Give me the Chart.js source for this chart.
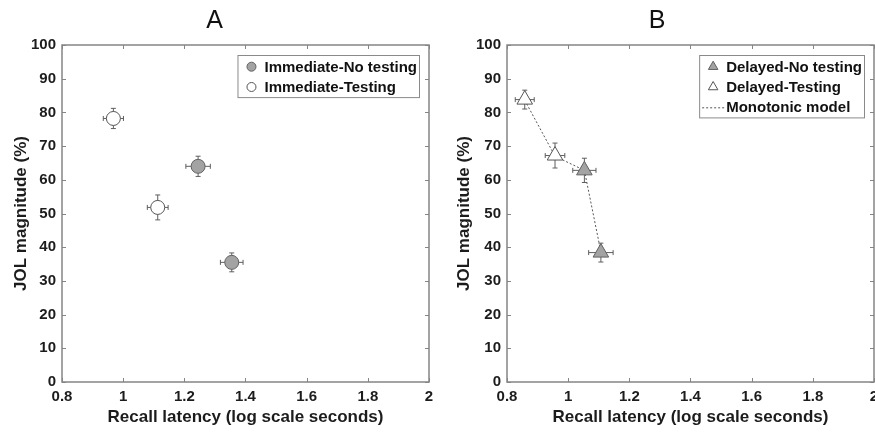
<!DOCTYPE html>
<html>
<head>
<meta charset="utf-8">
<script src="https://cdn.jsdelivr.net/npm/chart.js@4.4.0/dist/chart.umd.min.js"></script>
<style>
  html, body { margin: 0; padding: 0; background: #fff; overflow: hidden; }
  #wrap { position: relative; width: 875px; height: 433px; overflow: hidden; }
  #panelA { position: absolute; left: 0; top: 0; }
  #panelB { position: absolute; left: 440px; top: 0; }
</style>
</head>
<body>
<div id="wrap">
  <canvas id="panelA" width="440" height="433"></canvas>
  <canvas id="panelB" width="445" height="433"></canvas>
</div>
<script>
// axis ticks
const xTicks = [0.8, 1, 1.2, 1.4, 1.6, 1.8, 2];
const yTicks = [0, 10, 20, 30, 40, 50, 60, 70, 80, 90, 100];

// panel A - immediate JOLs
const immNoTestX = [1.245, 1.355];
const immNoTestY = [64, 35.5];
const immNoTestXErr = [0.04, 0.037];
const immNoTestYErr = [3, 2.8];

const immTestX = [0.968, 1.113];
const immTestY = [78.2, 51.8];
const immTestXErr = [0.033, 0.034];
const immTestYErr = [3, 3.7];

// panel B - delayed JOLs
const delNoTestX = [1.053, 1.107];
const delNoTestY = [62.8, 38.4];
const delNoTestXErr = [0.038, 0.04];
const delNoTestYErr = [3.6, 2.8];

const delTestX = [0.858, 0.957];
const delTestY = [83.8, 67.2];
const delTestXErr = [0.031, 0.032];
const delTestYErr = [2.8, 3.7];

const modelX = [0.858, 0.957, 1.053, 1.107];
const modelY = [83.6, 67.0, 62.8, 38.6];

const FONT = '"Liberation Sans", Arial, sans-serif';
const GRAY_FILL = '#a3a3a3';

const toPoints = (xs, ys) => xs.map((x, i) => ({ x: x, y: ys[i] }));

// error bars go under the markers
const errorBarPlugin = {
  id: 'errorBars',
  beforeDatasetsDraw(chart) {
    const { ctx, scales: { x, y } } = chart;
    const cap = 2.5;
    ctx.save();
    ctx.strokeStyle = '#5e5e5e';
    ctx.lineWidth = 1;
    chart.data.datasets.forEach((ds) => {
      if (!ds.xErr) return;
      ds.data.forEach((p, i) => {
        const px = x.getPixelForValue(p.x);
        const py = y.getPixelForValue(p.y);
        const x0 = x.getPixelForValue(p.x - ds.xErr[i]);
        const x1 = x.getPixelForValue(p.x + ds.xErr[i]);
        const y0 = y.getPixelForValue(p.y - ds.yErr[i]);
        const y1 = y.getPixelForValue(p.y + ds.yErr[i]);
        ctx.beginPath();
        ctx.moveTo(x0, py); ctx.lineTo(x1, py);
        ctx.moveTo(x0, py - cap); ctx.lineTo(x0, py + cap);
        ctx.moveTo(x1, py - cap); ctx.lineTo(x1, py + cap);
        ctx.moveTo(px, y0); ctx.lineTo(px, y1);
        ctx.moveTo(px - cap, y0); ctx.lineTo(px + cap, y0);
        ctx.moveTo(px - cap, y1); ctx.lineTo(px + cap, y1);
        ctx.stroke();
      });
    });
    ctx.restore();
  }
};

// matlab style box with inward ticks on all four sides
const boxPlugin = {
  id: 'axesBox',
  afterDraw(chart) {
    const { ctx, chartArea: { left, right, top, bottom }, scales: { x, y } } = chart;
    const tl = 4;
    ctx.save();
    ctx.strokeStyle = '#858585';
    ctx.lineWidth = 1;
    ctx.beginPath();
    xTicks.forEach((v) => {
      const px = Math.round(x.getPixelForValue(v)) + 0.5;
      ctx.moveTo(px, bottom); ctx.lineTo(px, bottom - tl);
      ctx.moveTo(px, top); ctx.lineTo(px, top + tl);
    });
    yTicks.forEach((v) => {
      const py = Math.round(y.getPixelForValue(v)) + 0.5;
      ctx.moveTo(left, py); ctx.lineTo(left + tl, py);
      ctx.moveTo(right, py); ctx.lineTo(right - tl, py);
    });
    ctx.stroke();
    ctx.lineWidth = 1.5;
    ctx.strokeRect(left, top, right - left, bottom - top);
    ctx.restore();
  }
};

function drawMarker(ctx, style, cx, cy, r, fill, stroke) {
  ctx.beginPath();
  if (style === 'triangle') {
    for (let k = 0; k < 3; k++) {
      const a = k * 2 * Math.PI / 3;
      const px = cx + Math.sin(a) * r;
      const py = cy - Math.cos(a) * r;
      if (k === 0) ctx.moveTo(px, py); else ctx.lineTo(px, py);
    }
    ctx.closePath();
  } else {
    ctx.arc(cx, cy, r, 0, Math.PI * 2);
  }
  ctx.fillStyle = fill;
  ctx.fill();
  ctx.strokeStyle = stroke;
  ctx.lineWidth = 1;
  ctx.stroke();
}

// boxed legend in the upper right corner of the plot
const legendBoxPlugin = {
  id: 'legendBox',
  afterDraw(chart) {
    const { ctx, chartArea } = chart;
    const items = chart.data.datasets;
    ctx.save();
    ctx.font = 'bold 15px ' + FONT;
    const textW = Math.max(...items.map((d) => ctx.measureText(d.label).width));
    const rowH = 20.3;
    const w = textW + 29;
    const h = items.length * rowH + 1.5;
    const bx = chartArea.right - 10 - w;
    const by = chartArea.top + 10;
    ctx.fillStyle = '#fff';
    ctx.fillRect(bx, by, w, h);
    ctx.strokeStyle = '#8a8a8a';
    ctx.lineWidth = 1;
    ctx.strokeRect(bx + 0.5, by + 0.5, w, h);

    items.forEach((d, i) => {
      const cy = by + 11.7 + i * rowH;
      if (d.showLine) {
        ctx.save();
        ctx.strokeStyle = d.borderColor;
        ctx.lineWidth = 1;
        ctx.setLineDash([2, 2]);
        ctx.beginPath();
        ctx.moveTo(bx + 3, cy + 0.5);
        ctx.lineTo(bx + 25, cy + 0.5);
        ctx.stroke();
        ctx.restore();
      } else {
        const r = d.pointStyle === 'triangle' ? 5.5 : 4.5;
        drawMarker(ctx, d.pointStyle, bx + 14, cy, r, d.backgroundColor, d.borderColor);
      }
      ctx.fillStyle = '#111';
      ctx.textAlign = 'left';
      ctx.textBaseline = 'middle';
      ctx.fillText(d.label, bx + 27, cy + 1);
    });
    ctx.restore();
  }
};

function makePanel(canvasId, titleText, datasets, yWidth, yTitlePad) {
  return new Chart(document.getElementById(canvasId), {
    type: 'scatter',
    data: { datasets: datasets },
    options: {
      responsive: false,
      animation: false,
      layout: { padding: { left: 0, right: 11, top: 0, bottom: 0 } },
      scales: {
        x: {
          type: 'linear',
          min: 0.8,
          max: 2,
          afterBuildTicks: (s) => { s.ticks = xTicks.map((v) => ({ value: v })); },
          afterFit: (s) => { s.height = 51; },
          grid: { display: false, drawTicks: false },
          border: { display: false },
          ticks: {
            padding: 6,
            color: '#1c1c1c',
            font: { family: FONT, size: 15, weight: 'bold' },
            callback: (v) => String(Math.round(v * 10) / 10),
          },
          title: {
            display: true,
            text: 'Recall latency (log scale seconds)',
            color: '#1c1c1c',
            font: { family: FONT, size: 17, weight: 'bold' },
            padding: { top: 0, bottom: 5 },
          },
        },
        y: {
          type: 'linear',
          min: 0,
          max: 100,
          afterBuildTicks: (s) => { s.ticks = yTicks.map((v) => ({ value: v })); },
          afterFit: (s) => { s.width = yWidth; },
          grid: { display: false, drawTicks: false },
          border: { display: false },
          ticks: {
            padding: 6,
            color: '#1c1c1c',
            font: { family: FONT, size: 15, weight: 'bold' },
          },
          title: {
            display: true,
            text: 'JOL magnitude (%)',
            color: '#1c1c1c',
            font: { family: FONT, size: 17, weight: 'bold' },
            padding: { top: yTitlePad, bottom: 0 },
          },
        },
      },
      plugins: {
        legend: { display: false },
        tooltip: { enabled: false },
        title: {
          display: true,
          text: titleText,
          color: '#111',
          font: { family: FONT, size: 25, weight: 'normal' },
          padding: { top: 6, bottom: 9 },
        },
      },
    },
    plugins: [errorBarPlugin, boxPlugin, legendBoxPlugin],
  });
}

makePanel('panelA', 'A', [
  {
    label: 'Immediate-No testing',
    data: toPoints(immNoTestX, immNoTestY),
    xErr: immNoTestXErr,
    yErr: immNoTestYErr,
    pointStyle: 'circle',
    pointRadius: 7,
    borderWidth: 1,
    backgroundColor: GRAY_FILL,
    borderColor: '#616161',
  },
  {
    label: 'Immediate-Testing',
    data: toPoints(immTestX, immTestY),
    xErr: immTestXErr,
    yErr: immTestYErr,
    pointStyle: 'circle',
    pointRadius: 7,
    borderWidth: 1,
    backgroundColor: '#ffffff',
    borderColor: '#555555',
  },
], 62, 11);

makePanel('panelB', 'B', [
  {
    label: 'Delayed-No testing',
    data: toPoints(delNoTestX, delNoTestY),
    xErr: delNoTestXErr,
    yErr: delNoTestYErr,
    pointStyle: 'triangle',
    pointRadius: 9,
    borderWidth: 1,
    backgroundColor: GRAY_FILL,
    borderColor: '#616161',
  },
  {
    label: 'Delayed-Testing',
    data: toPoints(delTestX, delTestY),
    xErr: delTestXErr,
    yErr: delTestYErr,
    pointStyle: 'triangle',
    pointRadius: 9,
    borderWidth: 1,
    backgroundColor: '#ffffff',
    borderColor: '#555555',
  },
  {
    label: 'Monotonic model',
    data: toPoints(modelX, modelY),
    showLine: true,
    borderDash: [2, 2],
    borderWidth: 1,
    borderColor: '#555555',
    pointRadius: 0,
  },
], 67, 14);
</script>
</body>
</html>
